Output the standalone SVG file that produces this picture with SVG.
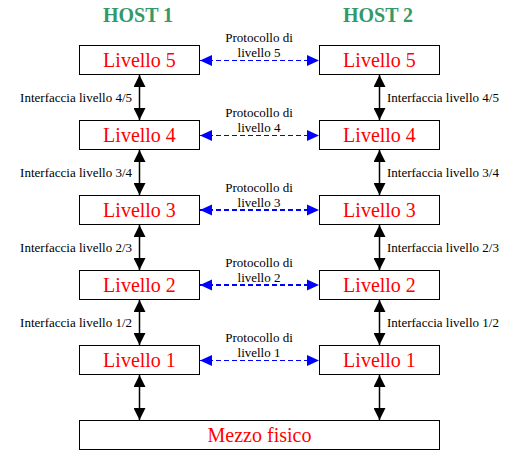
<svg xmlns="http://www.w3.org/2000/svg" width="520" height="451" viewBox="0 0 520 451">
<style>
.box{fill:#fff;stroke:#000;stroke-width:1}
.lbl{font-size:20px;fill:#ff0000;text-anchor:middle}
.host{font-size:20px;font-weight:bold;fill:#339966;text-anchor:middle}
.small{font-size:13px;fill:#000}
.mid{text-anchor:middle}
.end{text-anchor:end}
.v{stroke:#000;stroke-width:1.5;fill:none;marker-start:url(#ka);marker-end:url(#ka)}
.h{stroke:#0000ff;stroke-width:1.2;stroke-dasharray:5,3;fill:none;marker-start:url(#ba);marker-end:url(#ba)}
.hb{stroke-width:2.2}
</style>
<defs>
<marker id="ka" viewBox="0 0 12 12" refX="12" refY="6" markerWidth="12" markerHeight="12" markerUnits="userSpaceOnUse" orient="auto-start-reverse"><path d="M0,0 L12,6 L0,12 Z" fill="#000"/></marker>
<marker id="ba" viewBox="0 0 12 12" refX="12" refY="6" markerWidth="12" markerHeight="12" markerUnits="userSpaceOnUse" orient="auto-start-reverse"><path d="M0,0.5 L12,6 L0,11.5 Z" fill="#0000ff"/></marker>
</defs>
<rect width="520" height="451" fill="#fff"/>
<g font-family="Liberation Serif, serif">
<text class="host" x="138" y="22">HOST 1</text>
<text class="host" x="378" y="22">HOST 2</text>

<g id="h1l5"><rect class="box" x="79.5" y="45.5" width="120" height="29"/><text class="lbl" x="139.5" y="67">Livello 5</text></g>
<g id="h1l4"><rect class="box" x="79.5" y="120.5" width="120" height="29"/><text class="lbl" x="139.5" y="142">Livello 4</text></g>
<g id="h1l3"><rect class="box" x="79.5" y="195.5" width="120" height="29"/><text class="lbl" x="139.5" y="217">Livello 3</text></g>
<g id="h1l2"><rect class="box" x="79.5" y="270.5" width="120" height="29"/><text class="lbl" x="139.5" y="292">Livello 2</text></g>
<g id="h1l1"><rect class="box" x="79.5" y="345.5" width="120" height="29"/><text class="lbl" x="139.5" y="367">Livello 1</text></g>

<g id="h2l5"><rect class="box" x="319.5" y="45.5" width="120" height="29"/><text class="lbl" x="379.5" y="67">Livello 5</text></g>
<g id="h2l4"><rect class="box" x="319.5" y="120.5" width="120" height="29"/><text class="lbl" x="379.5" y="142">Livello 4</text></g>
<g id="h2l3"><rect class="box" x="319.5" y="195.5" width="120" height="29"/><text class="lbl" x="379.5" y="217">Livello 3</text></g>
<g id="h2l2"><rect class="box" x="319.5" y="270.5" width="120" height="29"/><text class="lbl" x="379.5" y="292">Livello 2</text></g>
<g id="h2l1"><rect class="box" x="319.5" y="345.5" width="120" height="29"/><text class="lbl" x="379.5" y="367">Livello 1</text></g>

<g id="mezzo"><rect class="box" x="79.5" y="420.5" width="360" height="29"/><text class="lbl" x="259.5" y="442">Mezzo fisico</text></g>

<g id="connectors">
<line class="v" x1="139.5" y1="75" x2="139.5" y2="120"/>
<line class="v" x1="139.5" y1="150" x2="139.5" y2="195"/>
<line class="v" x1="139.5" y1="225" x2="139.5" y2="270"/>
<line class="v" x1="139.5" y1="300" x2="139.5" y2="345"/>
<line class="v" x1="139.5" y1="375" x2="139.5" y2="420"/>
<line class="v" x1="379.5" y1="75" x2="379.5" y2="120"/>
<line class="v" x1="379.5" y1="150" x2="379.5" y2="195"/>
<line class="v" x1="379.5" y1="225" x2="379.5" y2="270"/>
<line class="v" x1="379.5" y1="300" x2="379.5" y2="345"/>
<line class="v" x1="379.5" y1="375" x2="379.5" y2="420"/>
<line class="h" x1="200" y1="60.5" x2="319" y2="60.5"/>
<line class="h" x1="200" y1="135.5" x2="319" y2="135.5"/>
<line class="h hb" x1="200" y1="210" x2="319" y2="210"/>
<line class="h hb" x1="200" y1="285" x2="319" y2="285"/>
<line class="h" x1="200" y1="360.5" x2="319" y2="360.5"/>
</g>

<g id="labels">
<text class="small mid" x="259" y="42">Protocollo di</text><text class="small mid" x="259" y="57">livello 5</text>
<text class="small mid" x="259" y="117">Protocollo di</text><text class="small mid" x="259" y="132">livello 4</text>
<text class="small mid" x="259" y="192">Protocollo di</text><text class="small mid" x="259" y="207">livello 3</text>
<text class="small mid" x="259" y="267">Protocollo di</text><text class="small mid" x="259" y="282">livello 2</text>
<text class="small mid" x="259" y="342">Protocollo di</text><text class="small mid" x="259" y="357">livello 1</text>
<text class="small end" x="132" y="102">Interfaccia livello 4/5</text>
<text class="small end" x="132" y="177">Interfaccia livello 3/4</text>
<text class="small end" x="132" y="252">Interfaccia livello 2/3</text>
<text class="small end" x="132" y="327">Interfaccia livello 1/2</text>
<text class="small" x="387" y="102">Interfaccia livello 4/5</text>
<text class="small" x="387" y="177">Interfaccia livello 3/4</text>
<text class="small" x="387" y="252">Interfaccia livello 2/3</text>
<text class="small" x="387" y="327">Interfaccia livello 1/2</text>
</g>
</g>
</svg>
